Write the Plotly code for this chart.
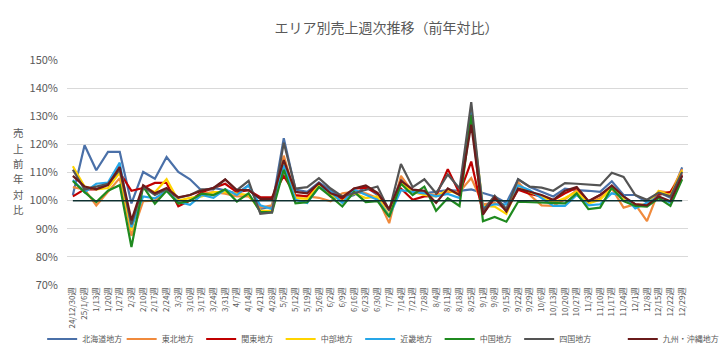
import plotly.graph_objects as go

weeks = ["24/12/30週", "25/1/6週", "1/13週", "1/20週", "1/27週", "2/3週", "2/10週", "2/17週", "2/24週",
         "3/3週", "3/10週", "3/17週", "3/24週", "3/31週", "4/7週", "4/14週", "4/21週", "4/28週",
         "5/5週", "5/12週", "5/19週", "5/26週", "6/2週", "6/9週", "6/16週", "6/23週", "6/30週",
         "7/7週", "7/14週", "7/21週", "7/28週", "8/4週", "8/11週", "8/18週", "8/25週", "9/1週",
         "9/8週", "9/15週", "9/22週", "9/29週", "10/6週", "10/13週", "10/20週", "10/27週", "11/3週",
         "11/10週", "11/17週", "11/24週", "12/1週", "12/8週", "12/15週", "12/22週", "12/29週"]

hokkaido = [102, 119.7, 110.8, 117.3, 117.3, 99, 110.2, 107.8, 115.5, 110.2, 107.6, 103.5, 104.5, 103.7,
            102.5, 105.5, 97, 98, 122.2, 103.9, 103.1, 106.5, 103.7, 100.6, 102, 105, 102, 96.5, 107.6,
            103.7, 102.6, 103.1, 103.7, 103.5, 104, 102.7, 101.5, 99.2, 107.6, 104.8, 103.1, 101.5, 104.3,
            103.7, 103.5, 103.1, 106.9, 102, 102, 99.4, 103, 101, 111.8]
tohoku = [104.8, 104, 98.3, 103, 108, 87.5, 99.8, 100, 104, 99, 100, 102.5, 103, 102.5, 101.5, 101.5,
          97.5, 98.3, 116, 101.5, 101.5, 101, 99.8, 102.6, 103.1, 102.6, 100.9, 92, 108.8, 103.1, 102.6,
          102, 103.1, 103.1, 108, 98.7, 99.2, 97, 106.5, 102, 98.3, 98.1, 100.5, 103.7, 99.2, 100.9,
          104.3, 97.5, 98.7, 92.7, 103.4, 102.8, 111.2]
kanto = [101.5, 104, 104, 106, 110, 103.5, 104.5, 106.3, 106.3, 98, 100, 103, 104.5, 106, 103, 103.7,
         101.2, 101.2, 108.8, 102, 101.5, 105.7, 101.5, 100.6, 104.3, 104.6, 102.6, 96.7, 104.3, 100.3,
         101.5, 101.7, 111.2, 102.6, 113.9, 95.5, 100.9, 96.4, 103.9, 102.4, 101.5, 100.1, 102.6, 104.6,
         99.8, 102, 105, 101, 98.7, 98.3, 102, 103.1, 109.3]
chubu = [112.2, 105, 104, 104.5, 110, 89.5, 105, 103, 107.6, 100, 101, 101.5, 103, 103, 102.5, 102,
         96.4, 96.4, 113.3, 100.9, 100.6, 105.4, 102, 99.8, 102.6, 100.9, 101.5, 94.7, 106.5, 103.1, 102,
         101.5, 103.9, 102, 132, 98.1, 97.9, 95.3, 105.4, 103.1, 101.5, 99.2, 100.9, 103.1, 99, 100.3,
         104.6, 100.9, 98.3, 98.7, 103.4, 101.8, 110.7]
kinki = [107.3, 103, 106, 106.4, 113.5, 90.5, 101.5, 100.8, 103.5, 99.5, 98.5, 102, 101, 104, 102, 105.4,
         98.3, 97, 112.7, 100.3, 99.2, 104.8, 103.1, 99.2, 103.9, 102, 100.3, 94.5, 103.7, 103.1, 102.6,
         101.5, 102.4, 100.9, 131.5, 97.5, 98.7, 98.7, 105.4, 103.7, 100.9, 98.1, 98.1, 102, 98.3, 98.7,
         102.6, 101.7, 97.2, 99.2, 101.5, 99.2, 108.8]
chugoku = [107, 103, 99.5, 103.5, 105.5, 83.5, 105, 98.9, 103.5, 99, 100, 102.5, 102, 104, 99.7, 102.6,
           96, 95.8, 111, 99, 99.4, 104.8, 101.5, 97.9, 103.1, 99.5, 99.8, 94.2, 106, 102, 105, 96.4,
           100.9, 98.1, 130.5, 92.7, 94.2, 92.5, 99.6, 99.5, 99.4, 99.2, 99, 102.6, 97, 97.5, 104.6, 99.8,
           98.1, 97.9, 100.9, 98.1, 107.6]
shikoku = [111, 104, 105, 106, 111, 91.5, 105, 102, 104, 101, 102, 104, 104, 107.5, 103.7, 107, 95.3,
           95.8, 120.6, 104.3, 104.8, 108, 104.3, 101.5, 102.6, 103.7, 105, 96.4, 113, 104.8, 107.6, 102.6,
           109.3, 104.3, 135, 96.4, 101.7, 97, 107.6, 105, 104.6, 103.5, 106.2, 106, 105.7, 105.4, 109.9,
           108.4, 102, 100.3, 102.8, 101.5, 110.2]
kyushu = [108.8, 105, 104, 105.5, 112, 93, 105.5, 102.6, 104.5, 101.2, 102, 103.5, 104.5, 107.5, 103.7,
          103.7, 100.6, 100.6, 114.4, 103.1, 102.6, 106.2, 102.6, 101.2, 104.3, 105.4, 102.8, 97, 107.1,
          103.9, 103.5, 99.2, 104.3, 102, 127, 95, 101.2, 96.1, 104.3, 103.1, 102, 100.3, 103.5, 104.8,
          99.8, 102, 105.4, 101.5, 98.7, 98.3, 101.5, 99.8, 108.8]

BASELINE = 100
y_ticks = [70, 80, 90, 100, 110, 120, 130, 140, 150]

series_names = ["北海道地方", "東北地方", "関東地方", "中部地方", "近畿地方", "中国地方", "四国地方", "九州・沖縄地方"]
series_values = [hokkaido, tohoku, kanto, chubu, kinki, chugoku, shikoku, kyushu]
colors = ["#4A70A8", "#F08A3C", "#C00000", "#FFD400", "#26A6E8", "#1F8A1F", "#545454", "#6A1B1B"]
y_title_chars = list("売上前年対比")

FONT = "Noto Sans CJK JP"
GRAY = "#595959"

fig = go.Figure()
n_series = len(series_names)
for k, (name, vals, col) in enumerate(zip(series_names, series_values, colors)):
    fig.add_trace(go.Scatter(x=weeks, y=vals, name=name, mode="lines",
                             legend="legend2" if k == n_series - 1 else "legend",
                             line=dict(color=col, width=2.2)))

fig.add_trace(go.Scatter(x=weeks, y=[BASELINE] * len(weeks), mode="lines", showlegend=False,
                         line=dict(color="#0E3030", width=1.5), hoverinfo="skip"))

legend_common = dict(orientation="h", xanchor="left", y=-0.24, yanchor="middle",
                     font=dict(family=FONT, size=8, color=GRAY), itemwidth=30,
                     tracegroupgap=0, bgcolor="rgba(0,0,0,0)")

fig.update_layout(
    width=728, height=358,
    margin=dict(l=59, r=48, t=52, b=68),
    paper_bgcolor="white", plot_bgcolor="white",
    font=dict(family=FONT, color=GRAY, size=10),
    title=dict(text="エリア別売上週次推移（前年対比）", x=0.52, xanchor="center", y=0.944, yanchor="middle",
               font=dict(family=FONT, size=14, color=GRAY)),
    showlegend=True,
    legend=dict(x=-0.04, entrywidth=34.5, entrywidthmode="pixels", **legend_common),
    legend2=dict(x=0.895, **legend_common),
    xaxis=dict(type="category", range=[-0.5, len(weeks) - 0.5], tickangle=-90, automargin=False,
               tickfont=dict(family=FONT, size=8, color=GRAY), showgrid=False, showline=False,
               ticks="", zeroline=False),
    yaxis=dict(range=[70, 150], tickvals=y_ticks, ticktext=[f"{v}%" for v in y_ticks], automargin=False,
               tickfont=dict(family=FONT, size=11, color=GRAY), showgrid=True, gridcolor="#D9D9D9",
               gridwidth=1, zeroline=False, showline=False, ticklabelstandoff=8),
)

plot_h = 358 - 52 - 68
for k, ch in enumerate(y_title_chars):
    py = 129 + k * 16.2
    fig.add_annotation(text=ch, xref="paper", yref="paper",
                       x=0, xshift=-49, y=(290 - py) / plot_h, xanchor="center", yanchor="middle",
                       showarrow=False, font=dict(family=FONT, size=10.5, color=GRAY))

fig.write_html("out.html")
